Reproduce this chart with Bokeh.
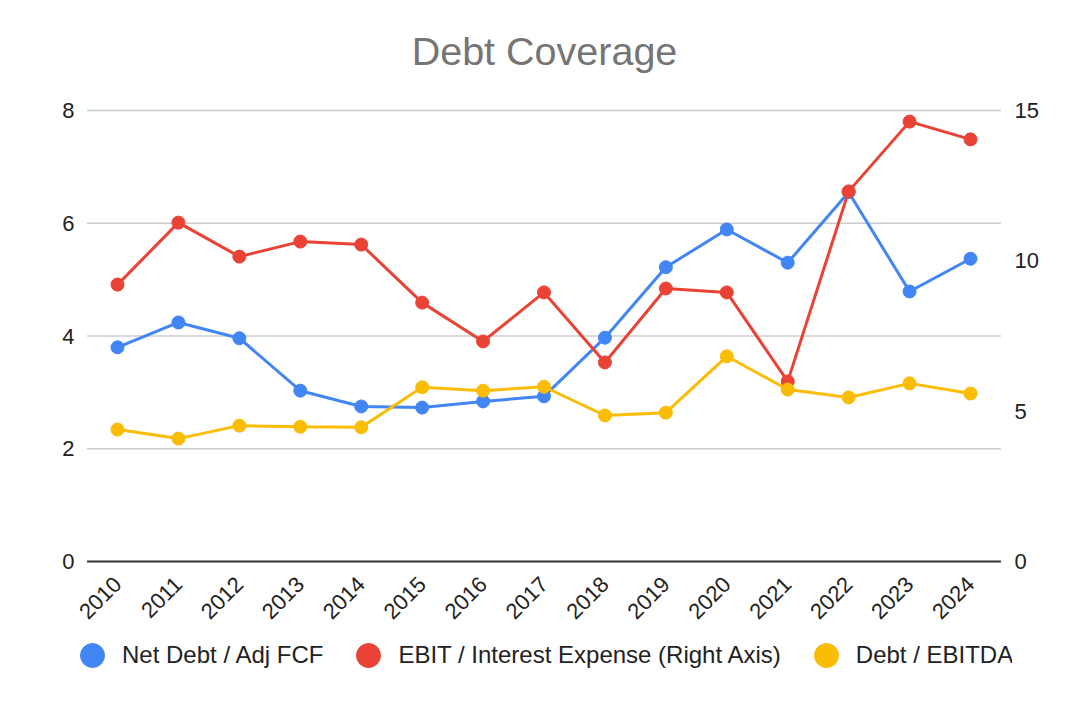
from bokeh.plotting import figure
from bokeh.models import Range1d, LinearAxis, FixedTicker, Legend, LegendItem
from bokeh.embed import file_html
from bokeh.resources import INLINE

years = list(range(2010, 2025))
year_labels = [str(y) for y in years]
net_debt_adj_fcf = [3.80, 4.24, 3.96, 3.03, 2.75, 2.73, 2.84, 2.93, 3.97, 5.22, 5.89, 5.30, 6.55, 4.79, 5.37]
ebit_interest = [9.21, 11.27, 10.14, 10.64, 10.54, 8.61, 7.32, 8.95, 6.62, 9.08, 8.95, 5.99, 12.31, 14.63, 14.04]
debt_ebitda = [2.34, 2.18, 2.41, 2.39, 2.38, 3.09, 3.03, 3.10, 2.59, 2.64, 3.64, 3.05, 2.91, 3.16, 2.98]
left_ticks = [0, 2, 4, 6, 8]
right_ticks = [0, 5, 10, 15]
series_names = ["Net Debt / Adj FCF", "EBIT / Interest Expense (Right Axis)", "Debt / EBITDA"]

FONT = "Liberation Sans"
BLUE, RED, YELLOW = "#4285F4", "#EA4335", "#FBBC04"

# layout (pixels)
PLOT_H, PAD_TOP, PAD_BOTTOM = 451, 12, 129      # data area height and extra room in frame
STEP = 853 / 14                                  # px per year
PAD_L, PAD_R = 41, 42                            # px from first/last year to frame edges
LMAX, RMAX = left_ticks[-1], right_ticks[-1]
x0, x1 = years[0] - PAD_L / STEP, years[-1] + PAD_R / STEP

p = figure(frame_width=936, frame_height=PLOT_H + PAD_TOP + PAD_BOTTOM,
           x_range=Range1d(x0, x1),
           y_range=Range1d(-LMAX * PAD_BOTTOM / PLOT_H, LMAX + LMAX * PAD_TOP / PLOT_H),
           output_backend="svg", toolbar_location=None,
           min_border_left=76, min_border_right=60, min_border_top=98, min_border_bottom=0)
p.extra_y_ranges = {"right": Range1d(-RMAX * PAD_BOTTOM / PLOT_H, RMAX + RMAX * PAD_TOP / PLOT_H)}
p.outline_line_color = None
p.background_fill_color = "white"
p.border_fill_color = "white"

p.title.text = "Debt Coverage"
p.title.align = "center"
p.title.text_font = FONT
p.title.text_font_size = "39.5px"
p.title.text_font_style = "normal"
p.title.text_color = "#757575"
p.title.standoff = 52

p.xgrid.visible = False
p.ygrid.visible = False

# gridlines and baseline spanning the category band
g_lo, g_hi = years[0] - 0.5, years[-1] + 0.5
p.segment(x0=g_lo, x1=g_hi, y0=left_ticks[1:], y1=left_ticks[1:], line_color="#cccccc", line_width=1.3)
p.segment(x0=g_lo, x1=g_hi, y0=left_ticks[0], y1=left_ticks[0], line_color="#333333", line_width=2)

p.yaxis.ticker = FixedTicker(ticks=left_ticks)
right = LinearAxis(y_range_name="right", ticker=FixedTicker(ticks=right_ticks))
p.add_layout(right, "right")

for ax in [p.yaxis[0], right]:
    ax.axis_line_color = None
    ax.major_tick_line_color = None
    ax.minor_tick_line_color = None
    ax.major_tick_out = 0
    ax.major_tick_in = 0
    ax.major_label_standoff = 2
    ax.major_label_text_font = FONT
    ax.major_label_text_font_size = "22px"
    ax.major_label_text_color = "#222222"

xa = p.xaxis[0]
xa.fixed_location = 0
xa.ticker = FixedTicker(ticks=years)
xa.major_label_overrides = dict(zip(years, year_labels))
xa.axis_line_color = None
xa.major_tick_line_color = None
xa.minor_tick_line_color = None
xa.major_tick_out = 0
xa.major_tick_in = 0
xa.major_label_standoff = 19
xa.major_label_orientation = 0.785398
xa.major_label_text_font = FONT
xa.major_label_text_font_size = "22px"
xa.major_label_text_color = "#222222"

p.line(years, net_debt_adj_fcf, color=BLUE, line_width=3)
s1 = p.scatter(years, net_debt_adj_fcf, color=BLUE, size=13)
p.line(years, ebit_interest, color=RED, line_width=3, y_range_name="right")
s2 = p.scatter(years, ebit_interest, color=RED, size=13, y_range_name="right")
p.line(years, debt_ebitda, color=YELLOW, line_width=3)
s3 = p.scatter(years, debt_ebitda, color=YELLOW, size=13)

legend = Legend(items=[LegendItem(label=n, renderers=[r]) for n, r in zip(series_names, [s1, s2, s3])],
                orientation="horizontal", location=(-14, 5),
                glyph_width=60, glyph_height=60, label_standoff=-2, spacing=15,
                padding=0, margin=0, border_line_color=None, background_fill_alpha=0,
                label_text_font=FONT, label_text_font_size="24px", label_text_color="#222222")
p.add_layout(legend, "center")

open("out.html", "w").write(file_html(p, INLINE))
